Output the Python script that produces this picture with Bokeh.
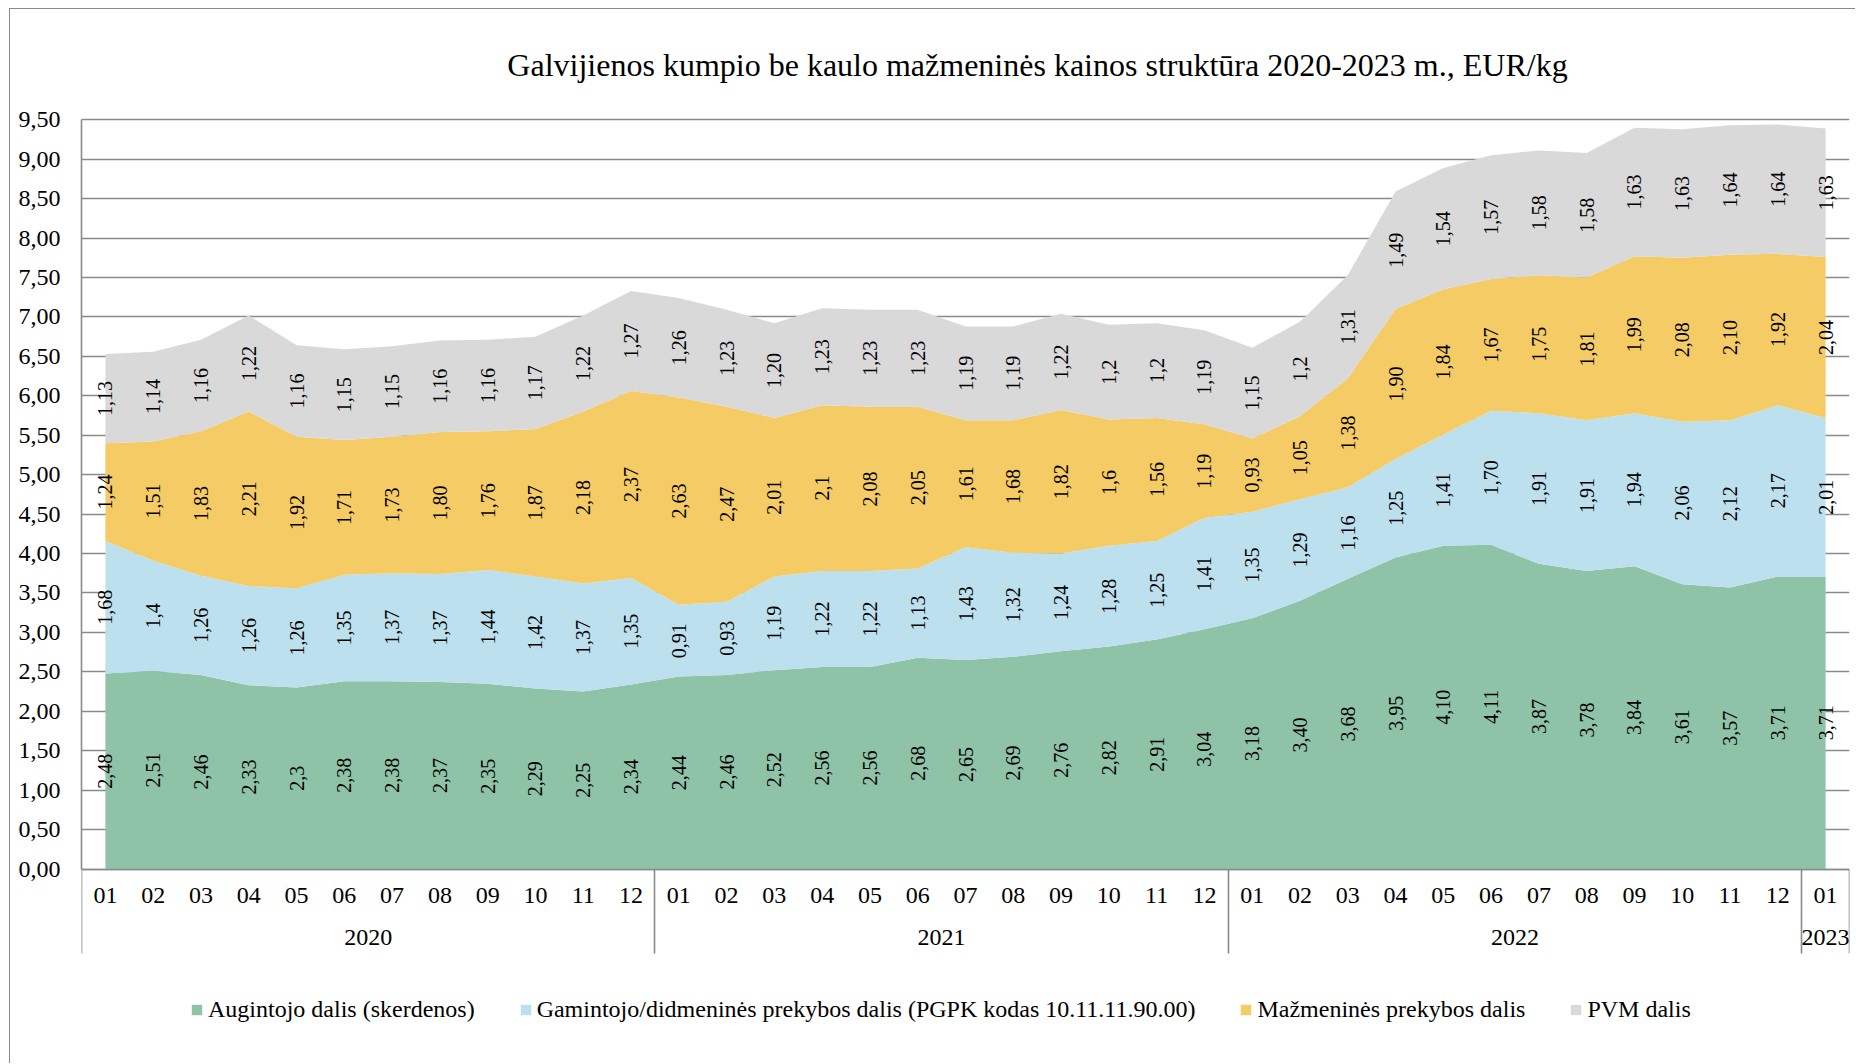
from math import pi
from bokeh.plotting import figure
from bokeh.models import (Range1d, ColumnDataSource, FixedTicker, Legend, LegendItem, LinearAxis, Label)
from bokeh.core.properties import value
from bokeh.embed import file_html
from bokeh.resources import INLINE

# ---------------- data ----------------
years = ["2020"] * 12 + ["2021"] * 12 + ["2022"] * 12 + ["2023"]
months = ["01", "02", "03", "04", "05", "06", "07", "08", "09", "10", "11", "12"] * 3 + ["01"]

augintojo = ["2,48", "2,51", "2,46", "2,33", "2,3", "2,38", "2,38", "2,37", "2,35", "2,29", "2,25", "2,34",
             "2,44", "2,46", "2,52", "2,56", "2,56", "2,68", "2,65", "2,69", "2,76", "2,82", "2,91", "3,04",
             "3,18", "3,40", "3,68", "3,95", "4,10", "4,11", "3,87", "3,78", "3,84", "3,61", "3,57", "3,71",
             "3,71"]
gamintojo = ["1,68", "1,4", "1,26", "1,26", "1,26", "1,35", "1,37", "1,37", "1,44", "1,42", "1,37", "1,35",
             "0,91", "0,93", "1,19", "1,22", "1,22", "1,13", "1,43", "1,32", "1,24", "1,28", "1,25", "1,41",
             "1,35", "1,29", "1,16", "1,25", "1,41", "1,70", "1,91", "1,91", "1,94", "2,06", "2,12", "2,17",
             "2,01"]
mazmenine = ["1,24", "1,51", "1,83", "2,21", "1,92", "1,71", "1,73", "1,80", "1,76", "1,87", "2,18", "2,37",
             "2,63", "2,47", "2,01", "2,1", "2,08", "2,05", "1,61", "1,68", "1,82", "1,6", "1,56", "1,19",
             "0,93", "1,05", "1,38", "1,90", "1,84", "1,67", "1,75", "1,81", "1,99", "2,08", "2,10", "1,92",
             "2,04"]
pvm = ["1,13", "1,14", "1,16", "1,22", "1,16", "1,15", "1,15", "1,16", "1,16", "1,17", "1,22", "1,27",
       "1,26", "1,23", "1,20", "1,23", "1,23", "1,23", "1,19", "1,19", "1,22", "1,2", "1,2", "1,19",
       "1,15", "1,2", "1,31", "1,49", "1,54", "1,57", "1,58", "1,58", "1,63", "1,63", "1,64", "1,64",
       "1,63"]

series_names = ["Augintojo dalis (skerdenos)",
                "Gamintojo/didmeninės prekybos dalis (PGPK kodas 10.11.11.90.00)",
                "Mažmeninės prekybos dalis",
                "PVM dalis"]
series_labels = [augintojo, gamintojo, mazmenine, pvm]
colors = ["#8FC3A8", "#BDE0EE", "#F5CB66", "#D9D9D9"]
y_ticks = [i * 0.5 for i in range(20)]

title_text = "Galvijienos kumpio be kaulo mažmeninės kainos struktūra 2020-2023 m., EUR/kg"

# ---------------- layout constants (page pixels) ----------------
FONT = "Liberation Serif"
GRID = "#8A8A8A"
PAGE_W, PAGE_H = 1856, 1064
OX, OY = 10, 9                 # canvas origin (after margin + border)
FRAME_L, FRAME_R = 81, 1849    # plot frame, page x
Y_TOP_PX, Y_ZERO_PX = 119.3, 868.5   # page y of 9.50 and 0.00
Y_MAX_VAL = 9.5

def num(s):
    return float(s.replace(",", "."))

n = len(months)
xs = list(range(n))
keys = ["s0", "s1", "s2", "s3"]
data = {"x": xs}
for k, lab in zip(keys, series_labels):
    data[k] = [num(s) for s in lab]
src = ColumnDataSource(data)

# year groups: boundaries and centres
bounds = [-0.5] + [i - 0.5 for i in range(1, n) if years[i] != years[i - 1]] + [n - 0.5]
year_names = [years[int(b + 0.5)] for b in bounds[:-1]]
year_centres = [(a + b) / 2 for a, b in zip(bounds[:-1], bounds[1:])]

# frame spans the full canvas height; y range chosen so 0..9.5 lands where the reference has it
ppu = (Y_ZERO_PX - Y_TOP_PX) / Y_MAX_VAL
y_hi = (Y_ZERO_PX - OY) / ppu
y_lo = -(PAGE_H - Y_ZERO_PX) / ppu

W, H = PAGE_W - OX, PAGE_H - OY
p = figure(width=W, height=H, x_range=Range1d(-0.5, n - 0.5), y_range=Range1d(y_lo, y_hi),
           output_backend="svg", toolbar_location=None, title=None, x_axis_location=None,
           min_border_left=FRAME_L - OX, min_border_right=PAGE_W - FRAME_R,
           min_border_top=0, min_border_bottom=0)
p.styles = {"margin-left": "9px", "margin-top": "8px",
            "border-top": "1px solid #8A8A8A", "border-left": "1px solid #8A8A8A"}
p.outline_line_color = None
p.background_fill_color = "white"
p.border_fill_color = "white"

rs = p.varea_stack(keys, x="x", source=src, color=colors)

# data labels centred in each band
lx, ly, lt = [], [], []
for i in xs:
    base = 0.0
    for k, lab in zip(keys, series_labels):
        v = data[k][i]
        lx.append(i)
        ly.append(base + v / 2)
        lt.append(lab[i])
        base += v
p.text(x="x", y="y", text="t", source=ColumnDataSource(dict(x=lx, y=ly, t=lt)),
       angle=pi / 2, text_align="center", text_baseline="middle",
       text_font=value(FONT), text_font_size="20px", text_color="black")

# grid
p.xgrid.visible = False
p.ygrid.ticker = FixedTicker(ticks=y_ticks)
p.ygrid.grid_line_color = GRID
p.ygrid.grid_line_width = 1.6
p.ygrid.level = "underlay"

# y axis
ya = p.yaxis[0]
ya.ticker = FixedTicker(ticks=y_ticks)
ya.bounds = (0, Y_MAX_VAL)
ya.major_label_overrides = {t: f"{t:.2f}".replace(".", ",") for t in y_ticks}
ya.axis_line_color = GRID
ya.axis_line_width = 1.6
ya.major_tick_line_color = None
ya.minor_tick_line_color = None
ya.major_tick_out = 0
ya.major_tick_in = 0
ya.major_label_standoff = 21
ya.major_label_text_font = FONT
ya.major_label_text_font_size = "24px"
ya.major_label_text_color = "black"

# x axis at y = 0: months, with long minor ticks as year separators
xa = LinearAxis(fixed_location=0, ticker=FixedTicker(ticks=xs, minor_ticks=bounds),
                major_label_overrides={i: m for i, m in zip(xs, months)},
                axis_line_color=GRID, axis_line_width=1.6,
                major_tick_line_color=None, major_tick_out=0, major_tick_in=0,
                minor_tick_line_color=GRID, minor_tick_line_width=1.6,
                minor_tick_out=84, minor_tick_in=0,
                major_label_standoff=-65,
                major_label_text_font=FONT, major_label_text_font_size="24px",
                major_label_text_color="black")
p.add_layout(xa, "below")

# second x axis: years
xa2 = LinearAxis(fixed_location=0, ticker=FixedTicker(ticks=year_centres),
                 major_label_overrides={c: y for c, y in zip(year_centres, year_names)},
                 axis_line_color=None, major_tick_line_color=None, minor_tick_line_color=None,
                 major_tick_out=0, major_tick_in=0, minor_tick_out=0, minor_tick_in=0,
                 major_label_standoff=61,
                 major_label_text_font=FONT, major_label_text_font_size="24px",
                 major_label_text_color="black")
p.add_layout(xa2, "below")

# legend (inside the tall frame, below the axes)
legend = Legend(items=[LegendItem(label=nm, renderers=[r]) for nm, r in zip(series_names, rs)],
                orientation="horizontal", location=(190 - FRAME_L, 41),
                border_line_color=None, background_fill_alpha=0,
                padding=0, margin=0, spacing=44, label_standoff=5,
                glyph_width=13, glyph_height=13,
                label_text_font=FONT, label_text_font_size="24px", label_text_color="black")
p.add_layout(legend, "center")

# title
p.add_layout(Label(x=1037 - FRAME_L, y=PAGE_H - 64, x_units="screen", y_units="screen",
                   text=title_text, text_align="center", text_baseline="alphabetic",
                   text_font=FONT, text_font_size="32px", text_color="black"))

open("out.html", "w").write(file_html(p, INLINE))
